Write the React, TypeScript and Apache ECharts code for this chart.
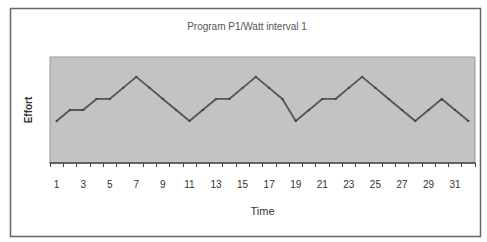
import React, { useEffect, useRef } from "react";
import * as echarts from "echarts";

const categories = Array.from({ length: 32 }, (_, i) => String(i + 1));
const effort = [1, 2, 2, 3, 3, 4, 5, 4, 3, 2, 1, 2, 3, 3, 4, 5, 4, 3, 1, 2, 3, 3, 4, 5, 4, 3, 2, 1, 2, 3, 2, 1];
const titleText = "Program P1/Watt interval 1";

export default function App() {
  const ref = useRef<HTMLDivElement>(null);
  useEffect(() => {
    document.body.style.margin = "0";
    const chart = echarts.init(ref.current!, null, { renderer: "svg" });
    chart.setOption({
      animation: false,
      backgroundColor: "#ffffff",
      title: {
        text: titleText,
        left: 242,
        top: 16,
        textAlign: "center",
        textStyle: { fontSize: 10, fontWeight: "normal", color: "#555", fontFamily: "Liberation Sans" },
      },
      graphic: [
        {
          type: "rect",
          shape: { x: 10.5, y: 8.5, width: 470, height: 228 },
          style: { fill: "none", stroke: "#666", lineWidth: 1.5 },
          silent: true,
        },
      ],
      grid: { left: 50, right: 12, top: 57, bottom: 79, show: true, backgroundColor: "#c3c3c3", borderColor: "#999", borderWidth: 1 },
      xAxis: {
        type: "category",
        data: categories,
        boundaryGap: true,
        name: "Time",
        nameLocation: "middle",
        nameGap: 42,
        nameTextStyle: { fontSize: 11, color: "#333", fontFamily: "Liberation Sans" },
        axisLine: { onZero: false, lineStyle: { color: "#444", width: 1.5 } },
        axisTick: { show: true, interval: 0, length: 4, lineStyle: { color: "#444" } },
        axisLabel: { interval: 1, fontSize: 10, color: "#333", margin: 16, fontFamily: "Liberation Sans" },
      },
      yAxis: {
        type: "value",
        min: -2.8,
        max: 6.8,
        name: "Effort",
        nameLocation: "middle",
        nameGap: 17,
        nameTextStyle: { fontSize: 10, color: "#333", fontWeight: "bold", fontFamily: "Liberation Sans" },
        axisLine: { show: false },
        axisTick: { show: false },
        axisLabel: { show: false },
        splitLine: { show: false },
      },
      series: [
        {
          type: "line",
          data: effort,
          symbol: "rect",
          symbolSize: 2,
          itemStyle: { color: "#444" },
          lineStyle: { color: "#555", width: 1.8 },
        },
      ],
    });
    return () => chart.dispose();
  }, []);
  return <div ref={ref} style={{ width: 487, height: 242 }} />;
}
